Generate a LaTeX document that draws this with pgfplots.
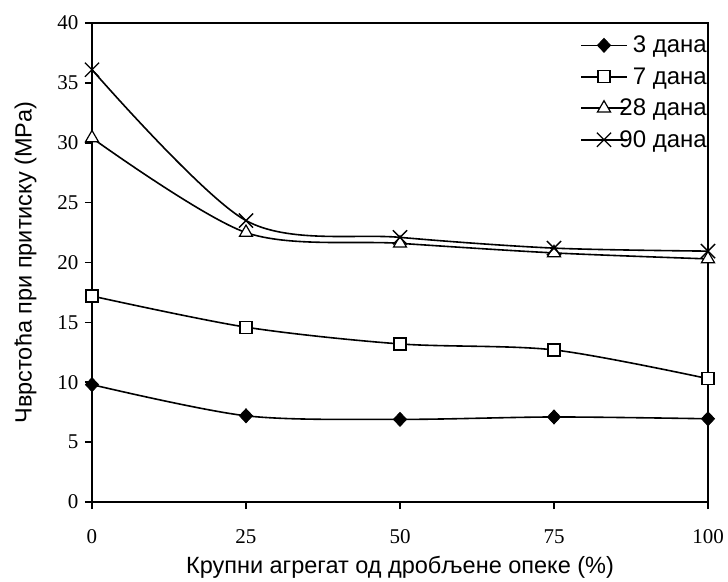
\documentclass[border=0pt]{standalone}
\usepackage{fontspec}
\setmainfont{Liberation Serif}
\newfontfamily\arial{Liberation Sans}
\usepackage{pgfplots}
\pgfplotsset{compat=1.18}
\begin{document}
\begin{tikzpicture}
\useasboundingbox (-92pt,-79pt) rectangle (636pt,502pt);
\begin{axis}[
  at={(0pt,0pt)}, anchor=south west,
  scale only axis, width=616pt, height=479pt,
  xmin=0, xmax=100, ymin=0, ymax=40,
  xtick={0,25,50,75,100}, ytick={0,5,...,40},
  tick pos=left, tick align=outside, major tick length=7pt,
  axis line style={line width=1.6pt},
  every tick/.style={line width=1.6pt, black},
  /pgf/number format/assume math mode=true,
  tick label style={font=\fontsize{21}{21}\selectfont},
  xticklabel style={yshift=-17pt},
  yticklabel style={xshift=-3pt},
  xlabel={\arial Крупни агрегат од дробљене опеке (\%)},
  ylabel={\arial Чврстоћа при притиску (MPa)},
  label style={font=\arial\fontsize{23.5}{23.5}\selectfont},
  xlabel style={at={(0.5,0)}, anchor=north, yshift=-51pt},
  ylabel style={at={(0,0.5)}, anchor=south, yshift=52pt},
  legend style={at={(1,1)}, anchor=north east, draw=none, fill=none,
    font=\arial\fontsize{24}{24}\selectfont, row sep=9.3pt,
    xshift=1pt, yshift=-11pt, inner sep=0pt, nodes={inner sep=2pt}},
  legend image code/.code={\draw[#1, mark repeat=2, mark phase=2] plot coordinates {(0pt,0pt) (23pt,0pt) (46pt,0pt)};},
  every axis plot/.append style={line width=1.6pt, black, smooth, tension=0.5},
]
\addplot[mark=diamond*, mark size=7pt, mark options={solid, fill=black, xscale=1.25, line width=0.8pt}] coordinates {
 (0,9.8) (25,7.2) (50,6.9) (75,7.1) (100,6.95)};
\addlegendentry{\makebox[77pt][r]{3 дана}}
\addplot[mark=square*, mark size=6pt, mark options={solid, fill=white, line width=1.2pt}] coordinates {
 (0,17.2) (25,14.6) (50,13.2) (75,12.7) (100,10.3)};
\addlegendentry{\makebox[77pt][r]{7 дана}}
\addplot[mark=triangle*, mark size=7.5pt, mark options={solid, fill=white, line width=1.2pt}] coordinates {
 (0,30.4) (25,22.5) (50,21.6) (75,20.8) (100,20.3)};
\addlegendentry{\makebox[77pt][r]{28 дана}}
\addplot[mark=x, mark size=10pt, mark options={solid, line width=1.3pt}] coordinates {
 (0,36.1) (25,23.5) (50,22.1) (75,21.2) (100,20.95)};
\addlegendentry{\makebox[77pt][r]{90 дана}}
\end{axis}
\end{tikzpicture}
\end{document}
